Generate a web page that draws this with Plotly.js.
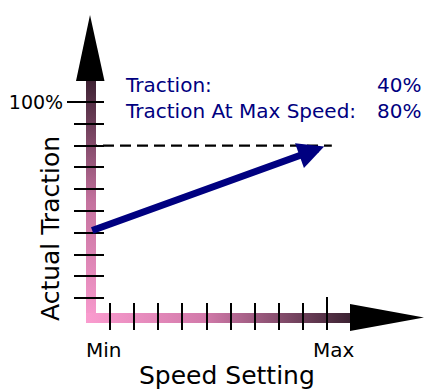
<!DOCTYPE html>
<html>
<head>
<meta charset="utf-8">
<script src="https://cdn.plot.ly/plotly-3.0.1.min.js"></script>
<style>html,body{margin:0;padding:0;background:#fff;}#chart{width:425px;height:389px;}</style>
</head>
<body>
<div id="chart"></div>
<script>
// ---- data ----
const speedLabels = ['Min', 'Max'];
const speedSetting = [0, 10];            // Min .. Max
const traction = 40;                     // % at min speed
const tractionAtMaxSpeed = 80;           // % at max speed
const yTickValues = [100];
const yTickLabels = ['100%'];
const yMinorTicks = [10, 20, 30, 40, 50, 60, 70, 80, 90];
const xMinorTicks = [1, 2, 3, 4, 5, 6, 7, 8, 9];
const xMajorTicks = [10];

// ---- layout helpers (pixel -> axis value, decoration only) ----
const W = 425, H = 389;
const X0 = 86, XS = 24.1;   // px of speed 0, px per speed unit
const Y0 = 320, YS = 2.18;  // px of 0 %, px per %
const X = px => (px - X0) / XS;
const Y = py => (Y0 - py) / YS;

const font = 'DejaVu Sans, Verdana, sans-serif';
const navy = '#000080';

const traces = [
  // dashed reference line at traction at max speed
  {x: [speedSetting[0], speedSetting[1] + 0.2], y: [tractionAtMaxSpeed, tractionAtMaxSpeed],
   mode: 'lines', line: {color: '#000', width: 2.2, dash: '11px,6px'}, hoverinfo: 'skip'},
  // vertical gradient bar
  {x: [X(86), X(96), X(96), X(86), X(86)], y: [Y(323), Y(323), Y(81), Y(81), Y(323)],
   mode: 'lines', fill: 'toself', line: {width: 0},
   fillgradient: {type: 'vertical', colorscale: [[0, '#fa9ccf'], [0.5, '#c4729e'], [1, '#3e2233']]},
   hoverinfo: 'skip'},
  // horizontal gradient bar
  {x: [X(86), X(350), X(350), X(86), X(86)], y: [Y(323), Y(323), Y(313), Y(313), Y(323)],
   mode: 'lines', fill: 'toself', line: {width: 0},
   fillgradient: {type: 'horizontal', colorscale: [[0, '#fa9ccf'], [0.45, '#d27aaa'], [1, '#3c2232']]},
   hoverinfo: 'skip'},
  // vertical arrow head
  {x: [X(76), X(104.5), X(90), X(76)], y: [Y(81), Y(81), Y(15), Y(81)],
   mode: 'lines', fill: 'toself', fillcolor: '#000', line: {width: 0}, hoverinfo: 'skip'},
  // horizontal arrow head
  {x: [X(350), X(424), X(350), X(350)], y: [Y(304), Y(317.5), Y(331), Y(304)],
   mode: 'lines', fill: 'toself', fillcolor: '#000', line: {width: 0}, hoverinfo: 'skip'}
];

const layout = {
  width: W, height: H, autosize: false,
  margin: {l: 0, r: 0, t: 0, b: 0},
  paper_bgcolor: '#fff', plot_bgcolor: '#fff',
  showlegend: false,
  font: {family: font, color: '#000'},
  xaxis: {
    range: [X(0), X(W)], anchor: 'free', position: (H - 330) / H,
    showgrid: false, zeroline: false, showline: false, fixedrange: true,
    tickmode: 'array', tickvals: xMajorTicks, ticktext: [''],
    ticks: 'inside', ticklen: 33, tickwidth: 2, tickcolor: '#000',
    minor: {tickmode: 'array', tickvals: xMinorTicks, ticks: 'inside', ticklen: 27, tickwidth: 2, tickcolor: '#000'}
  },
  yaxis: {
    range: [Y(H), Y(0)], anchor: 'free', position: 104 / W,
    showgrid: false, zeroline: false, showline: false, fixedrange: true,
    tickmode: 'array', tickvals: yTickValues, ticktext: yTickLabels,
    ticks: 'outside', ticklen: 37, tickwidth: 2, tickcolor: '#000',
    tickfont: {family: font, size: 19, color: '#000'},
    minor: {tickmode: 'array', tickvals: yMinorTicks, ticks: 'outside', ticklen: 30, tickwidth: 2, tickcolor: '#000'}
  },
  annotations: [
    // data arrow
    {x: speedSetting[1], y: tractionAtMaxSpeed, ax: speedSetting[0], ay: traction,
     xref: 'x', yref: 'y', axref: 'x', ayref: 'y', text: '', showarrow: true,
     arrowhead: 2, arrowsize: 0.75, arrowwidth: 7, arrowcolor: navy, standoff: 3, startstandoff: 5},
    // info text
    {x: 123 / W, y: (H - 85) / H, xref: 'paper', yref: 'paper', xanchor: 'left', yanchor: 'middle',
     text: 'Traction:', showarrow: false, font: {family: font, size: 20, color: navy}},
    {x: 123 / W, y: (H - 111) / H, xref: 'paper', yref: 'paper', xanchor: 'left', yanchor: 'middle',
     text: 'Traction At Max Speed:', showarrow: false, font: {family: font, size: 20, color: navy}},
    {x: 423 / W, y: (H - 85) / H, xref: 'paper', yref: 'paper', xanchor: 'right', yanchor: 'middle',
     text: traction + '%', showarrow: false, font: {family: font, size: 20, color: navy}},
    {x: 423 / W, y: (H - 111) / H, xref: 'paper', yref: 'paper', xanchor: 'right', yanchor: 'middle',
     text: tractionAtMaxSpeed + '%', showarrow: false, font: {family: font, size: 20, color: navy}},
    // Min / Max labels
    {x: speedSetting[0], y: Y(350), xref: 'x', yref: 'y', xanchor: 'center', yanchor: 'middle', xshift: 18,
     text: speedLabels[0], showarrow: false, font: {family: font, size: 20, color: '#000'}},
    {x: speedSetting[1], y: Y(350), xref: 'x', yref: 'y', xanchor: 'center', yanchor: 'middle', xshift: 7,
     text: speedLabels[1], showarrow: false, font: {family: font, size: 20, color: '#000'}},
    // axis titles
    {x: 227 / W, y: (H - 375) / H, xref: 'paper', yref: 'paper', xanchor: 'center', yanchor: 'middle',
     text: 'Speed Setting', showarrow: false, font: {family: font, size: 25, color: '#000'}},
    {x: 51 / W, y: (H - 229) / H, xref: 'paper', yref: 'paper', xanchor: 'center', yanchor: 'middle',
     text: 'Actual Traction', textangle: -90, showarrow: false, font: {family: font, size: 25, color: '#000'}}
  ]
};

Plotly.newPlot('chart', traces, layout, {staticPlot: true, displayModeBar: false});
</script>
</body>
</html>
